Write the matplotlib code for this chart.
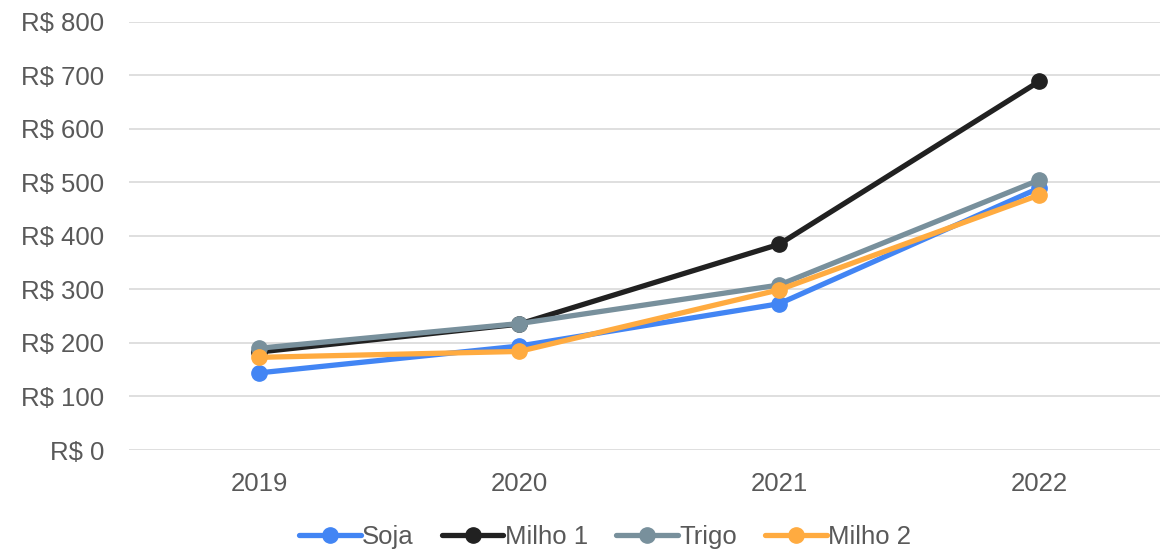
import matplotlib.pyplot as plt
from matplotlib.ticker import FuncFormatter

plt.rcParams["font.family"] = ["Liberation Sans", "DejaVu Sans"]

anos = ["2019", "2020", "2021", "2022"]
soja = [144, 194, 273, 489]
milho1 = [183, 235, 384, 688]
trigo = [190, 236, 308, 504]
milho2 = [173, 184, 299, 476]

series = [
    ("Soja", soja, "#4285F4"),
    ("Milho 1", milho1, "#212121"),
    ("Trigo", trigo, "#78909C"),
    ("Milho 2", milho2, "#FFAB40"),
]

fig = plt.figure(figsize=(11.6, 5.54), dpi=100)
ax = fig.add_axes([129 / 1160, 1 - 450 / 554, 1 - 129 / 1160, (450 - 21.5) / 554])

x = range(len(anos))
for nome, vals, cor in series:
    ax.plot(x, vals, color=cor, lw=3.8, marker="o", markersize=11, label=nome,
            solid_capstyle="round")

ax.set_ylim(0, 800)
ax.set_xlim(-0.5, 3.465)
ax.set_yticks(range(0, 801, 100))
ax.yaxis.set_major_formatter(FuncFormatter(lambda v, p: f"R$ {int(v)}"))
ax.set_xticks(list(x))
ax.set_xticklabels(anos)
ax.grid(axis="y", color="#d9d9d9", lw=1.2)
ax.set_axisbelow(True)
for s in ax.spines.values():
    s.set_visible(False)
ax.tick_params(length=0, labelsize=18.5, colors="#595959")
ax.tick_params(axis="y", pad=18)
ax.tick_params(axis="x", pad=16)

leg = fig.legend(loc="center", bbox_to_anchor=(605 / 1160, 1 - 537 / 554), ncol=4,
                 frameon=False, fontsize=18.5, handlelength=2.4, handletextpad=0.05,
                 columnspacing=1.1)
for t in leg.get_texts():
    t.set_color("#595959")

fig.savefig("out.png", dpi=100)
